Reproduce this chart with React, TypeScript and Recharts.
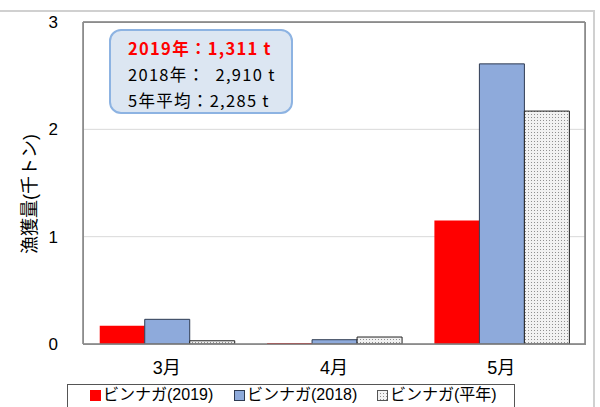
import React from "react";
import { BarChart, Bar, XAxis, YAxis, CartesianGrid } from "recharts";

const months = ["3月", "4月", "5月"];
const catch2019 = [0.17, 0.01, 1.15];
const catch2018 = [0.23, 0.04, 2.61];
const catchAvg = [0.03, 0.065, 2.17];
const yTicks = [0, 1, 2, 3];
const boundaries = [0, 1, 2, 3];
const seriesNames = ["ビンナガ(2019)", "ビンナガ(2018)", "ビンナガ(平年)"];
const noteLines = ["2019年：1,311 t", "2018年：  2,910 t", "5年平均：2,285 t"];
const yTitle = "漁獲量(千トン)";

const data = months.map((m, i) => ({ month: m, s2019: catch2019[i], s2018: catch2018[i], avg: catchAvg[i] }));

const FONT = "'Liberation Sans', Arial, 'Noto Sans CJK JP', sans-serif";
const JFONT = "'Noto Sans CJK JP', sans-serif";
const AXIS = "#808080";

const legendItems = [
  { name: seriesNames[0], fill: "#ff0000", stroke: "#ff0000" },
  { name: seriesNames[1], fill: "#8eaadb", stroke: "#2f3b52" },
  { name: seriesNames[2], fill: "url(#dots)", stroke: "#555" },
];

export default function App() {
  return (
    <div style={{ position: "absolute", left: 0, top: 0, width: 600, height: 407, background: "#fff" }}>
      <svg width={0} height={0} style={{ position: "absolute" }}>
        <defs>
          <pattern id="dots" width="3" height="3" patternUnits="userSpaceOnUse">
            <rect width="3" height="3" fill="#f2f2f2" />
            <rect x="0" y="0" width="1" height="1" fill="#909090" />
          </pattern>
        </defs>
      </svg>
      <div style={{ position: "absolute", left: 0, top: 10, width: 595, height: 397, borderTop: "2px solid #d0d0d0", borderRight: "2px solid #d0d0d0", boxSizing: "border-box" }} />
      <div style={{ position: "absolute", left: 0, top: 0, width: 600, height: 407 }}>
        <BarChart
          width={600}
          height={407}
          data={data}
          margin={{ top: 21, right: 14, bottom: 0, left: 0 }}
          barGap={0}
        >
          <CartesianGrid horizontal vertical={false} stroke="#d9d9d9" xAxisId="c" yAxisId="l" />
          <YAxis
            yAxisId="l"
            width={83}
            domain={[0, 3]}
            ticks={yTicks}
            interval={0}
            tickSize={0}
            tickMargin={25}
            axisLine={{ stroke: AXIS, strokeWidth: 1.5 }}
            tick={{ fontSize: 17, fill: "#000", fontFamily: FONT }}
          />
          <YAxis yAxisId="r" orientation="right" width={1} domain={[0, 3]} tick={false} tickLine={false} axisLine={{ stroke: AXIS, strokeWidth: 1.5 }} />
          <XAxis
            xAxisId="b"
            type="number"
            domain={[0, 3]}
            allowDataOverflow
            ticks={boundaries}
            interval={0}
            tick={false}
            tickSize={6}
            tickLine={{ stroke: AXIS, strokeWidth: 1.5 }}
            axisLine={{ stroke: AXIS, strokeWidth: 1.5 }}
            height={1}
          />
          <XAxis
            dataKey="month"
            xAxisId="c"
            interval={0}
            tickSize={0}
            tickMargin={16}
            axisLine={false}
            tick={{ fontSize: 18, fill: "#000", fontFamily: FONT }}
            height={62}
          />
          <XAxis xAxisId="t" orientation="top" dataKey="month" tick={false} tickLine={false} axisLine={{ stroke: AXIS, strokeWidth: 1.5 }} height={1} />
          <Bar dataKey="s2019" name={seriesNames[0]} xAxisId="c" yAxisId="l" fill="#ff0000" isAnimationActive={false} />
          <Bar dataKey="s2018" name={seriesNames[1]} xAxisId="c" yAxisId="l" fill="#8eaadb" stroke="#2f3b52" strokeWidth={1} isAnimationActive={false} />
          <Bar dataKey="avg" name={seriesNames[2]} xAxisId="c" yAxisId="l" fill="url(#dots)" stroke="#222" strokeWidth={1} isAnimationActive={false} />
        </BarChart>
      </div>
      <div
        style={{
          position: "absolute",
          left: 83,
          top: 22,
          width: 503,
          height: 323,
          border: "1px solid #8c8c8c",
          boxSizing: "border-box",
          pointerEvents: "none",
        }}
      />
      <div
        style={{
          position: "absolute",
          left: 30,
          top: 194,
          transform: "translate(-50%, -50%) rotate(-90deg)",
          whiteSpace: "nowrap",
          fontSize: 18,
          lineHeight: "22px",
          fontFamily: FONT,
          color: "#000",
        }}
      >
        {yTitle}
      </div>
      <div
        style={{
          position: "absolute",
          left: 67,
          top: 384,
          width: 448,
          height: 23,
          borderTop: "1px solid #555",
          borderLeft: "1px solid #555",
          borderRight: "1px solid #555",
          boxSizing: "border-box",
          background: "#fff",
          fontFamily: FONT,
          fontSize: 16,
          color: "#000",
        }}
      >
        {legendItems.map((it, i) => (
          <div key={i} style={{ display: "flex", alignItems: "center", position: "absolute", left: [22, 166, 309][i], top: 1, height: 18, lineHeight: "18px", whiteSpace: "nowrap" }}>
            <svg width={11} height={11} style={{ marginRight: 2 }}>
              <rect x={0.5} y={0.5} width={10} height={10} fill={it.fill} stroke={it.stroke} strokeWidth={1} />
            </svg>
            <span>{it.name}</span>
          </div>
        ))}
      </div>
      <div
        style={{
          position: "absolute",
          left: 109,
          top: 29,
          width: 184,
          height: 85,
          boxSizing: "border-box",
          border: "2.5px solid #8db3e2",
          borderRadius: 12,
          background: "#dce6f2",
          fontFamily: JFONT,
          fontSize: 16.5,
          letterSpacing: "1.3px",
          color: "#000",
        }}
      >
        {noteLines.map((t, i) => (
          <div
            key={i}
            style={{
              position: "absolute",
              left: 17,
              top: 6 + i * 26,
              whiteSpace: "pre",
              color: i === 0 ? "#ff0000" : "#000",
              fontWeight: i === 0 ? "bold" : "normal",
              lineHeight: "22px",
            }}
          >
            {t}
          </div>
        ))}
      </div>
    </div>
  );
}
